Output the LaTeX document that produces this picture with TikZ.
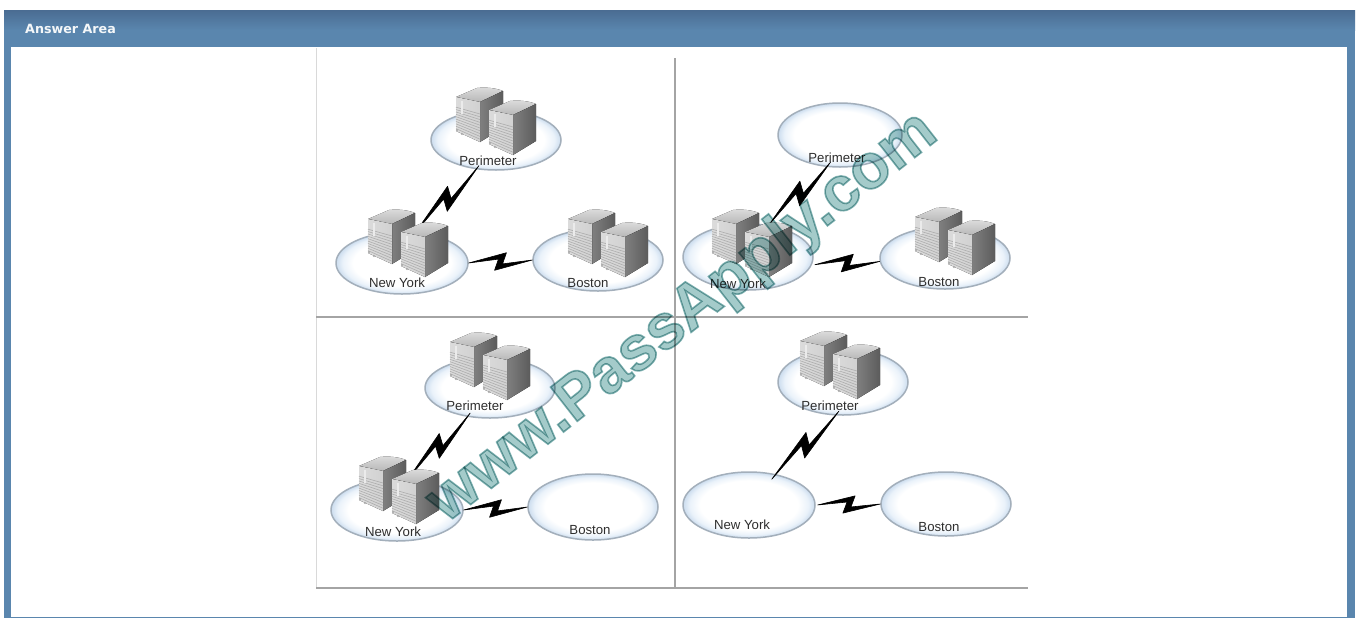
\documentclass[tikz,border=0pt]{standalone}
\usepackage{fontspec}
\setmainfont{Liberation Sans}
\newfontfamily\titlefont{DejaVu Sans Bold}
\newfontfamily\wmfont[FakeBold=2.6]{Liberation Sans Bold}
\usetikzlibrary{shapes.geometric,calc}
\definecolor{frameblue}{HTML}{5A86AE}
\definecolor{framedark}{HTML}{4A6C92}
\definecolor{netedge}{HTML}{A3AFBB}
\definecolor{netglow}{HTML}{EAF2FA}
\definecolor{netglowb}{HTML}{CBDCEE}
\definecolor{gridline}{HTML}{A4A4A4}
\definecolor{wmfill}{HTML}{A4CBCA}
\pgfdeclareradialshading{netshade}{\pgfpointorigin}{color(0bp)=(white); color(18.5bp)=(white); color(22.5bp)=(netglow); color(25bp)=(netglowb); color(50bp)=(netglowb)}
\tikzset{
  net/.style={ellipse,draw=netedge,line width=1.5pt,shade,shading=netshade,inner sep=0pt},
  lbl/.style={font=\fontsize{13.2}{14}\selectfont,text=black!82,inner sep=0pt},
  grid line/.style={draw=gridline,line width=1.4pt},
  pics/serverunit/.style={code={
    \fill[bottom color=black!28,top color=black!14] (0,9) -- (21,0) .. controls (30,-1) and (40,0) .. (47,3) -- (24,14) -- cycle;
    \fill[left color=black!50,right color=black!64] (24,14) -- (47,3) -- (47,40) -- (24,54) -- cycle;
    \fill[left color=black!14,middle color=white,right color=black!18] (0,9) -- (24,14) -- (24,54) -- (0,43) -- cycle;
    \foreach \t in {.30,.37,...,.98} {
      \draw[black!32,line width=.6pt] ($(0,9)!\t!(0,43)$) -- ($(24,14)!\t!(24,54)$);
    }
    \fill[black!8] (5,13) rectangle (7,26);
    \fill[black!35] (1,42) circle (1.1pt) (6,46) circle (1.1pt);
  }},
  pics/servers/.style={code={
    \pic at (0,0) {serverunit};
    \pic at (33,13) {serverunit};
  }}
}
\newcommand{\boltlink}[4]{%
  \coordinate (bA) at ($(#1)!-1*#3!(#2)$);
  \coordinate (bB) at ($(#2)!-1*#4!(#1)$);
  \coordinate (t40) at ($(bA)!.40!(bB)$);
  \coordinate (t47) at ($(bA)!.47!(bB)$);
  \coordinate (t53) at ($(bA)!.53!(bB)$);
  \coordinate (t60) at ($(bA)!.60!(bB)$);
  \filldraw[black,line width=.6pt,line join=round] (bA) -- ($(t60)!8.5pt!90:(bB)$) -- ($(t53)!2.5pt!-90:(bB)$) -- (bB)
     -- ($(t40)!8.5pt!-90:(bB)$) -- ($(t47)!2.5pt!90:(bB)$) -- cycle;
}
\begin{document}
\begin{tikzpicture}[x=1pt,y=-1pt]
\useasboundingbox (0,0) rectangle (1357,619);
\fill[white] (0,0) rectangle (1357,619);
% frame
\fill[frameblue] (4,10) rectangle (1355,618);
\fill[top color=framedark,bottom color=frameblue] (4,10) rectangle (1355,30);
\fill[white] (11,47) rectangle (1347,617);
\node[font=\titlefont\fontsize{12.7}{15}\selectfont,text=white!93!frameblue,anchor=west,inner sep=0pt] (title) at (25,29) {Answer Area};
% grid
\draw[draw=black!15,line width=1pt] (316,48) -- (316,588);
\draw[grid line] (675,58) -- (675,588);
\draw[grid line] (316,317) -- (1028,317);
\draw[grid line] (316,588) -- (1028,588);

% panel A (top left)
\node[net,minimum width=130pt,minimum height=60pt] (aper) at (496,140) {};
\node[net,minimum width=132pt,minimum height=62pt] (any) at (402,263) {};
\node[net,minimum width=130pt,minimum height=62pt] (abos) at (598,260) {};
\boltlink{any.66}{aper.235}{0pt}{5pt}
\boltlink{any.0}{abos.180}{0pt}{0pt}
\pic at (456,88) {servers};
\pic at (368,210) {servers};
\pic at (568,210) {servers};
\node[lbl] (aperl) at (488,161) {Perimeter};
\node[lbl] (anyl) at (397,283) {New York};
\node[lbl] (abosl) at (588,283) {Boston};

% panel B (top right)
\node[net,minimum width=124pt,minimum height=64pt] (bper) at (840,135) {};
\node[net,minimum width=130pt,minimum height=66pt] (bny) at (748,257) {};
\node[net,minimum width=130pt,minimum height=62pt] (bbos) at (945,258) {};
\boltlink{bny.57}{bper.246}{0pt}{7pt}
\boltlink{bny.353}{bbos.183}{-3pt}{0pt}
\pic at (712,210) {servers};
\pic at (915,208) {servers};
\node[lbl] (bperl) at (837,158) {Perimeter};
\node[lbl] (bnyl) at (738,284) {New York};
\node[lbl] (bbosl) at (939,282) {Boston};

% panel C (bottom left)
\node[net,minimum width=130pt,minimum height=60pt] (cper) at (490,388) {};
\node[net,minimum width=132pt,minimum height=62pt] (cny) at (397,510) {};
\node[net,minimum width=130pt,minimum height=66pt] (cbos) at (593,507) {};
\boltlink{cny.70}{cper.231}{0pt}{5pt}
\boltlink{cny.0}{cbos.180}{0pt}{0pt}
\pic at (450,333) {servers};
\pic at (359,457) {servers};
\node[lbl] (cperl) at (475,406) {Perimeter};
\node[lbl] (cnyl) at (393,532) {New York};
\node[lbl] (cbosl) at (590,530) {Boston};

% panel D (bottom right)
\node[net,minimum width=130pt,minimum height=66pt] (dper) at (843,382) {};
\node[net,minimum width=132pt,minimum height=66pt] (dny) at (749,505) {};
\node[net,minimum width=130pt,minimum height=64pt] (dbos) at (946,504) {};
\boltlink{dny.48}{dper.256}{7pt}{6pt}
\boltlink{dny.0}{dbos.180}{-2pt}{0pt}
\pic at (800,332) {servers};
\node[lbl] (dperl) at (830,406) {Perimeter};
\node[lbl] (dnyl) at (742,525) {New York};
\node[lbl] (dbosl) at (939,527) {Boston};

% watermark
\begin{scope}[blend mode=multiply]
\node[rotate=38,inner sep=0pt] (wm) at (683,318) {\wmfont\fontsize{63}{65}\selectfont\color{wmfill}\special{pdf:code 0.50 0.70 0.70 RG}www.PassApply.com};
\end{scope}
\end{tikzpicture}
\end{document}
